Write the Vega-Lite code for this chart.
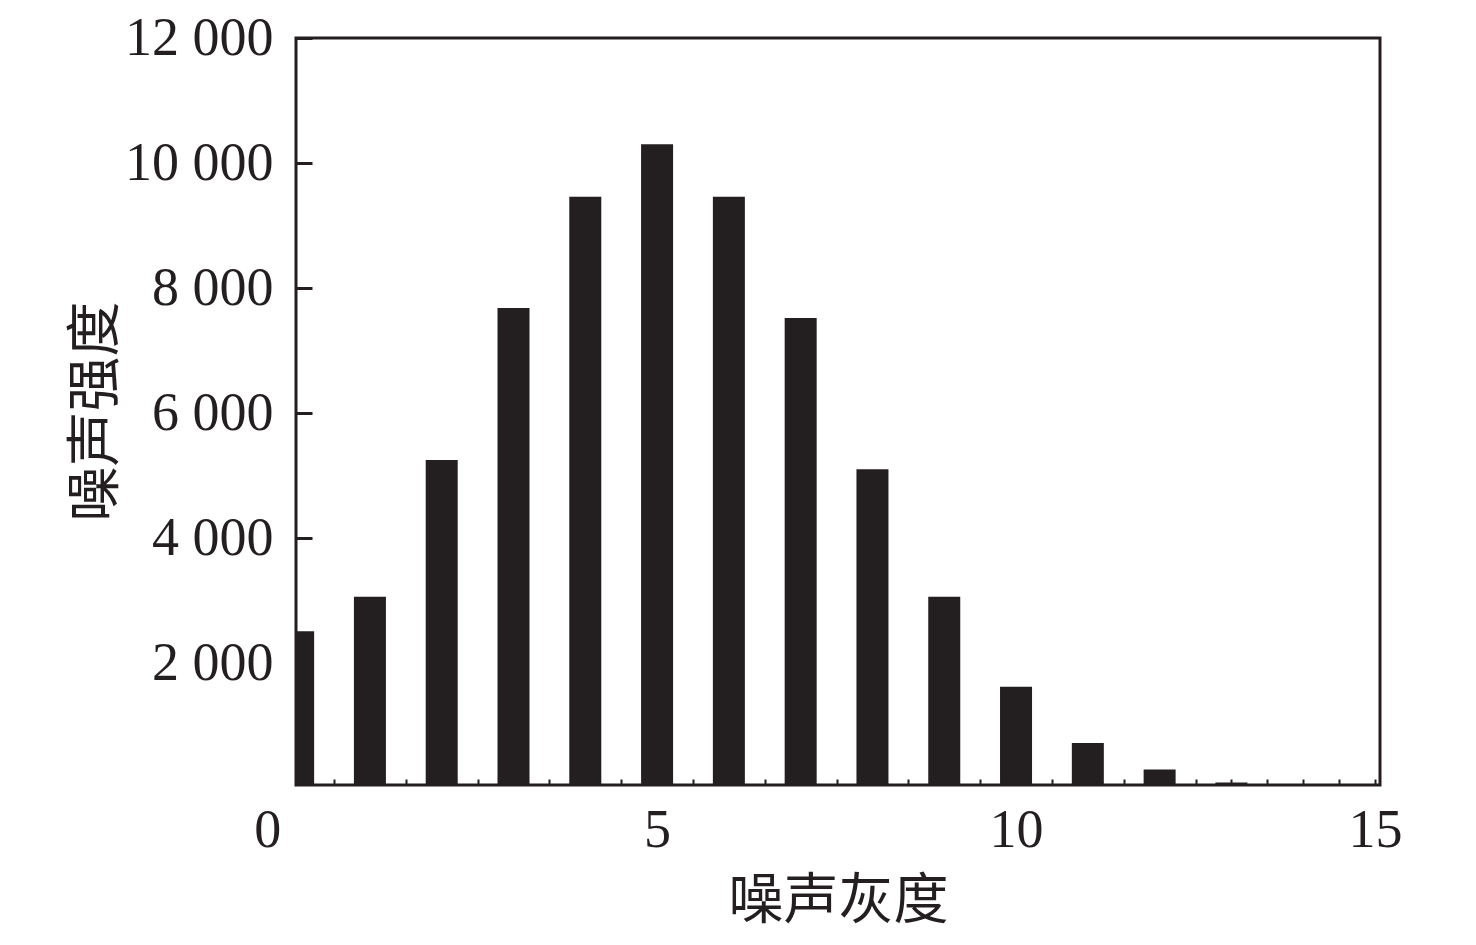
{
  "$schema": "https://vega.github.io/schema/vega-lite/v6.json",
  "width": 1084,
  "height": 747,
  "autosize": {"type": "none"},
  "padding": {"left": 296, "top": 38, "right": 96, "bottom": 160},
  "background": "white",
  "view": {"stroke": "#231f20", "strokeWidth": 3},
  "data": {
    "values": [
      {"gray": 0, "intensity": 2510},
      {"gray": 1, "intensity": 3060},
      {"gray": 2, "intensity": 5250},
      {"gray": 3, "intensity": 7680},
      {"gray": 4, "intensity": 9460},
      {"gray": 5, "intensity": 10300},
      {"gray": 6, "intensity": 9460},
      {"gray": 7, "intensity": 7520},
      {"gray": 8, "intensity": 5100},
      {"gray": 9, "intensity": 3060},
      {"gray": 10, "intensity": 1620},
      {"gray": 11, "intensity": 720},
      {"gray": 12, "intensity": 295},
      {"gray": 13, "intensity": 90}
    ]
  },
  "mark": {"type": "bar", "width": 32, "color": "#231f20", "clip": true},
  "encoding": {
    "x": {
      "field": "gray",
      "type": "quantitative",
      "scale": {"domain": [0.04, 15], "nice": false, "zero": false},
      "axis": {
        "title": "噪声灰度",
        "titleFont": "Noto Sans CJK SC",
        "titleFontSize": 55,
        "titleFontWeight": "normal",
        "titleColor": "#231f20",
        "titleX": 542,
        "titleY": 115,
        "titleBaseline": "middle",
        "titleAlign": "center",
        "values": [0, 0.5, 1, 1.5, 2, 2.5, 3, 3.5, 4, 4.5, 5, 5.5, 6, 6.5, 7, 7.5, 8, 8.5, 9, 9.5, 10, 10.5, 11, 11.5, 12, 12.5, 13, 13.5, 14, 14.5, 15],
        "labelExpr": "datum.value % 5 === 0 ? format(datum.value, 'd') : ''",
        "labelFont": "Liberation Serif",
        "labelFontSize": 54,
        "labelColor": "#231f20",
        "labelPadding": 24,
        "labelOverlap": false,
        "labelFlush": false,
        "labelBound": false,
        "labelOffset": {"condition": {"test": "datum.value === 0", "value": -31}, "value": 0},
        "tickOpacity": {"condition": {"test": "datum.value === 0", "value": 0}, "value": 1},
        "tickSize": -6,
        "tickWidth": 2,
        "tickColor": "#231f20",
        "domain": false,
        "grid": false
      }
    },
    "y": {
      "field": "intensity",
      "type": "quantitative",
      "scale": {"domain": [48, 12000], "nice": false, "zero": false},
      "axis": {
        "title": "噪声强度",
        "titleFont": "Noto Sans CJK SC",
        "titleFontSize": 55,
        "titleFontWeight": "normal",
        "titleColor": "#231f20",
        "titleX": -201,
        "titleY": 373,
        "titleAngle": -90,
        "titleBaseline": "middle",
        "titleAlign": "center",
        "values": [2000, 4000, 6000, 8000, 10000, 12000],
        "labelExpr": "replace(format(datum.value, ','), ',', ' ')",
        "labelFont": "Liberation Serif",
        "labelFontSize": 54,
        "labelColor": "#231f20",
        "labelPadding": 39,
        "labelBaseline": "middle",
        "labelOverlap": false,
        "labelFlush": false,
        "tickSize": -16,
        "tickWidth": 3,
        "tickColor": "#231f20",
        "domain": false,
        "grid": false
      }
    }
  }
}
